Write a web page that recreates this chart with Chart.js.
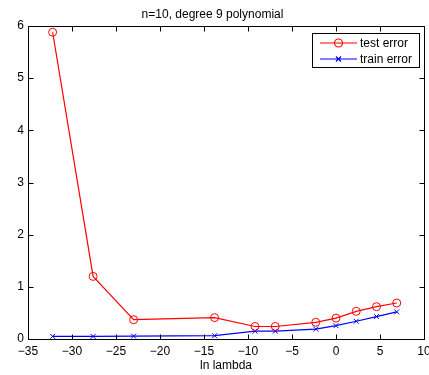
<!DOCTYPE html>
<html>
<head>
<meta charset="utf-8">
<script src="https://cdn.jsdelivr.net/npm/chart.js@4"></script>
<style>
  html, body { margin: 0; padding: 0; background: #fff; }
  #wrap { width: 429px; height: 375px; }
</style>
</head>
<body>
<div id="wrap"><canvas id="errChart"></canvas></div>
<script>
// data (x = ln lambda)
const lnLambda   = [-32.2, -27.6, -23.0, -13.8, -9.2, -6.9, -2.3, 0, 2.3, 4.6, 6.9];
const testError  = [5.88, 1.20, 0.37, 0.41, 0.24, 0.24, 0.32, 0.40, 0.53, 0.62, 0.69];
const trainError = [0.05, 0.05, 0.055, 0.063, 0.15, 0.15, 0.19, 0.255, 0.34, 0.43, 0.52];
const xTicks = [-35, -30, -25, -20, -15, -10, -5, 0, 5, 10];
const yTicks = [0, 1, 2, 3, 4, 5, 6];

const FONT = 'Liberation Sans, Arial, sans-serif';
const ctx = document.getElementById('errChart').getContext('2d');

const toPoints = ys => lnLambda.map((x, i) => ({ x: x, y: ys[i] }));
const fmt = v => (v < 0 ? '\u2212' + Math.abs(v) : String(v));

// matlab style box, inward ticks and legend
const matlabAxes = {
    id: 'matlabAxes',
    afterDatasetsDraw(chart) {
        const c = chart.ctx;
        const a = chart.chartArea;
        const xs = chart.scales.x, ys = chart.scales.y;
        const L = Math.round(a.left) + 0.5, R = Math.round(a.right) + 0.5;
        const T = Math.round(a.top) + 0.5, B = Math.round(a.bottom) + 0.5;
        c.save();
        c.strokeStyle = '#000';
        c.lineWidth = 1;
        c.beginPath();
        c.rect(L, T, R - L, B - T);
        xTicks.forEach(v => {
            const p = Math.round(xs.getPixelForValue(v)) + 0.5;
            c.moveTo(p, B); c.lineTo(p, B - 5);
            c.moveTo(p, T); c.lineTo(p, T + 5);
        });
        yTicks.forEach(v => {
            const p = Math.round(ys.getPixelForValue(v)) + 0.5;
            c.moveTo(L, p); c.lineTo(L + 5, p);
            c.moveTo(R, p); c.lineTo(R - 5, p);
        });
        c.stroke();

        // legend
        const bx = 312.5, by = 33.5, bw = 107, bh = 34;
        c.fillStyle = '#fff';
        c.fillRect(bx, by, bw, bh);
        c.strokeStyle = '#000';
        c.strokeRect(bx, by, bw, bh);
        const rows = [
            { label: 'test error', color: '#ff0000', y: 43, mark: 'o' },
            { label: 'train error', color: '#0000ff', y: 59, mark: 'x' }
        ];
        c.font = '12px ' + FONT;
        c.textBaseline = 'middle';
        c.textAlign = 'left';
        rows.forEach(r => {
            c.strokeStyle = r.color;
            c.lineWidth = 1.2;
            c.beginPath();
            c.moveTo(320, r.y); c.lineTo(357, r.y);
            if (r.mark === 'o') {
                c.moveTo(342.5, r.y);
                c.arc(338.5, r.y, 4, 0, Math.PI * 2);
            } else {
                c.moveTo(336, r.y - 2.5); c.lineTo(341, r.y + 2.5);
                c.moveTo(341, r.y - 2.5); c.lineTo(336, r.y + 2.5);
            }
            c.stroke();
            c.fillStyle = '#000';
            c.fillText(r.label, 360, r.y + 1);
        });
        c.restore();
    }
};

new Chart(ctx, {
    type: 'line',
    data: {
        datasets: [
            {
                label: 'test error',
                data: toPoints(testError),
                borderColor: '#ff0000',
                borderWidth: 1.2,
                pointStyle: 'circle',
                pointRadius: 4,
                pointBorderWidth: 1,
                pointBackgroundColor: 'rgba(0,0,0,0)',
                pointBorderColor: '#ff0000',
                tension: 0
            },
            {
                label: 'train error',
                data: toPoints(trainError),
                borderColor: '#0000ff',
                borderWidth: 1.2,
                pointStyle: 'crossRot',
                pointRadius: 3.5,
                pointBorderWidth: 1,
                pointBorderColor: '#0000ff',
                tension: 0
            }
        ]
    },
    options: {
        responsive: true,
        maintainAspectRatio: false,
        animation: false,
        layout: { padding: { left: 0, right: 4, top: 0, bottom: 0 } },
        plugins: {
            legend: { display: false },
            tooltip: { enabled: false },
            title: {
                display: true,
                text: 'n=10, degree 9 polynomial',
                color: '#000',
                font: { family: FONT, size: 12, weight: 'normal' },
                padding: { top: 7, bottom: 4.6 }
            }
        },
        scales: {
            x: {
                type: 'linear',
                min: -35, max: 10,
                afterBuildTicks: s => { s.ticks = xTicks.map(v => ({ value: v })); },
                afterFit: s => { s.height = 36; s.paddingLeft = 0; s.paddingRight = 0; },
                grid: { display: false, drawTicks: false },
                border: { display: false },
                ticks: {
                    color: '#000',
                    padding: 5,
                    maxRotation: 0,
                    autoSkip: false,
                    font: { family: FONT, size: 12 },
                    callback: v => fmt(v)
                },
                title: {
                    display: true,
                    text: 'ln lambda',
                    color: '#000',
                    font: { family: FONT, size: 12 },
                    padding: { top: 0, bottom: 2 }
                }
            },
            y: {
                min: 0, max: 6,
                afterBuildTicks: s => { s.ticks = yTicks.map(v => ({ value: v })); },
                afterFit: s => { s.width = 28; s.paddingTop = 0; s.paddingBottom = 0; },
                grid: { display: false, drawTicks: false },
                border: { display: false },
                ticks: {
                    color: '#000',
                    padding: 4,
                    autoSkip: false,
                    font: { family: FONT, size: 12 },
                    callback: v => fmt(v)
                }
            }
        }
    },
    plugins: [matlabAxes]
});
</script>
</body>
</html>
